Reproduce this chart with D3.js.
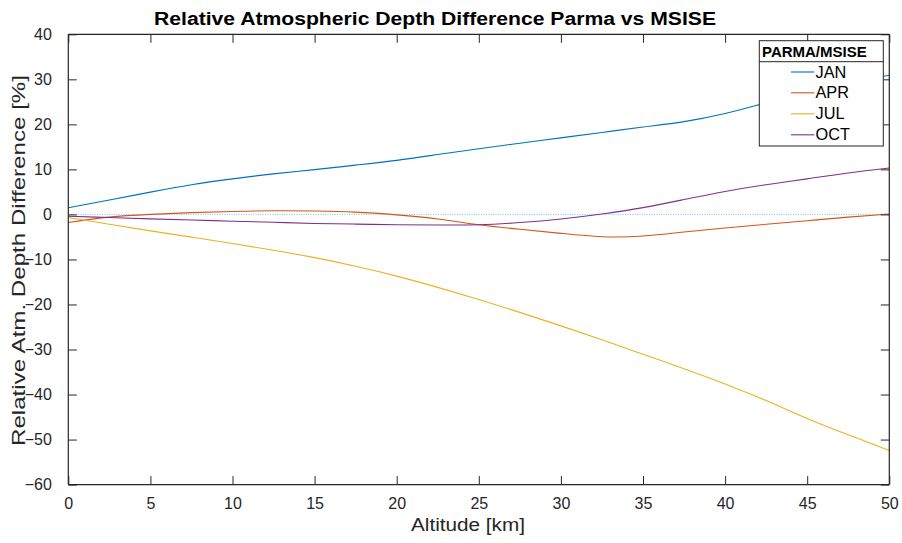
<!DOCTYPE html>
<html>
<head>
<meta charset="utf-8">
<script src="https://cdn.jsdelivr.net/npm/d3@7"></script>
<style>
  html, body { margin: 0; padding: 0; background: #fff; }
  svg { display: block; font-family: "Liberation Sans", Arial, Helvetica, sans-serif; }
</style>
</head>
<body>
<svg id="chart" width="902" height="543"></svg>
<script>
// ---- data ----
const altitude = [0, 2.5, 5, 7.5, 10, 12.5, 15, 17.5, 20, 22.5, 25, 27.5, 30, 32.5, 35, 37.5, 40, 42.5, 45, 47.5, 50];
const janValues = [1.5, 3.2, 4.95, 6.6, 7.9, 9.0, 9.95, 10.95, 12.0, 13.3, 14.6, 15.8, 17.0, 18.2, 19.4, 20.6, 22.4, 24.8, 27.2, 29.2, 30.9];
const aprValues = [-1.8, -0.6, 0.0, 0.4, 0.65, 0.8, 0.75, 0.5, -0.1, -1.0, -2.3, -3.3, -4.2, -4.95, -4.8, -3.9, -3.0, -2.2, -1.4, -0.6, 0.1];
const julValues = [-0.7, -2.2, -3.65, -5.05, -6.45, -7.95, -9.6, -11.5, -13.7, -16.2, -18.9, -21.75, -24.75, -27.85, -31.05, -34.25, -37.65, -41.35, -45.3, -48.95, -52.45];
const octValues = [-0.4, -0.7, -1.0, -1.25, -1.5, -1.75, -2.0, -2.15, -2.3, -2.35, -2.3, -1.8, -1.0, 0.1, 1.5, 3.3, 5.1, 6.6, 7.9, 9.2, 10.3];
const seriesNames = ["JAN", "APR", "JUL", "OCT"];
const seriesColors = ["#0072BD", "#D95319", "#EDB120", "#7E2F8E"];
const xTicks = [0, 5, 10, 15, 20, 25, 30, 35, 40, 45, 50];
const yTicks = [-60, -50, -40, -30, -20, -10, 0, 10, 20, 30, 40];
const titleText = "Relative Atmospheric Depth Difference Parma vs MSISE";
const xLabelText = "Altitude [km]";
const yLabelText = "Relative Atm. Depth Difference [%]";
const legendTitle = "PARMA/MSISE";

const allSeries = [janValues, aprValues, julValues, octValues];

// ---- layout ----
const svg = d3.select("#chart");
const L = 68.3, R = 889.3, T = 34.3, B = 484.6;
const x = d3.scaleLinear().domain([0, 50]).range([L, R]);
const y = d3.scaleLinear().domain([-60, 40]).range([B, T]);
const axisColor = "#262626";

// zero reference line (dotted)
svg.append("line")
  .attr("x1", x(0)).attr("x2", x(50)).attr("y1", y(0)).attr("y2", y(0))
  .attr("stroke", "#4DBEEE").attr("stroke-width", 1)
  .attr("stroke-dasharray", "1,1.4").attr("opacity", 0.8);

// series lines
const line = d3.line().x((d, i) => x(altitude[i])).y(d => y(d)).curve(d3.curveNatural);
allSeries.forEach((vals, k) => {
  svg.append("path").datum(vals)
    .attr("d", line)
    .attr("fill", "none")
    .attr("stroke", seriesColors[k])
    .attr("stroke-width", 1.1);
});

// axes (MATLAB box style, ticks inside)
const tickLen = 8.5;
const gB = svg.append("g").attr("transform", `translate(0,${B})`)
  .call(d3.axisBottom(x).tickValues(xTicks).tickSize(-tickLen).tickPadding(tickLen + 5));
const gT = svg.append("g").attr("transform", `translate(0,${T})`)
  .call(d3.axisTop(x).tickValues(xTicks).tickSize(-tickLen).tickFormat(""));
const gL = svg.append("g").attr("transform", `translate(${L},0)`)
  .call(d3.axisLeft(y).tickValues(yTicks).tickSize(-tickLen).tickPadding(tickLen + 8));
const gR = svg.append("g").attr("transform", `translate(${R},0)`)
  .call(d3.axisRight(y).tickValues(yTicks).tickSize(-tickLen).tickFormat(""));
[gB, gT, gL, gR].forEach(g => {
  g.select(".domain").attr("stroke", axisColor).attr("stroke-width", 1.2);
  g.selectAll(".tick line").attr("stroke", axisColor).attr("stroke-width", 1);
  g.selectAll("text").attr("fill", "#262626").attr("font-size", 16)
    .attr("font-family", "Liberation Sans, Arial, sans-serif");
});
gB.selectAll(".domain").attr("d", `M${L},0H${R}`);
gT.selectAll(".domain").attr("d", `M${L},0H${R}`);
gL.selectAll(".domain").attr("d", `M0,${B}V${T}`);
gR.selectAll(".domain").attr("d", `M0,${B}V${T}`);

// title
svg.append("text")
  .attr("x", 154).attr("y", 24.5)
  .attr("font-size", 18).attr("font-weight", "bold").attr("fill", "#000")
  .attr("textLength", 562).attr("lengthAdjust", "spacingAndGlyphs")
  .text(titleText);

// axis labels
svg.append("text")
  .attr("x", 411).attr("y", 531)
  .attr("font-size", 18).attr("fill", "#262626")
  .attr("textLength", 114).attr("lengthAdjust", "spacingAndGlyphs")
  .text(xLabelText);
svg.append("text")
  .attr("transform", "translate(25,446) rotate(-90)")
  .attr("font-size", 17.5).attr("fill", "#262626")
  .attr("textLength", 371).attr("lengthAdjust", "spacingAndGlyphs")
  .text(yLabelText);

// legend
const lg = svg.append("g");
const lgL = 759.3, lgT = 40.7, lgR = 883.3, lgB = 146;
lg.append("rect").attr("x", lgL).attr("y", lgT).attr("width", lgR - lgL).attr("height", lgB - lgT)
  .attr("fill", "#fff").attr("stroke", "#262626").attr("stroke-width", 1);
lg.append("line").attr("x1", lgL).attr("x2", lgR).attr("y1", 61.7).attr("y2", 61.7)
  .attr("stroke", "#262626").attr("stroke-width", 1);
lg.append("text").attr("x", 762).attr("y", 56.7)
  .attr("font-size", 14.5).attr("font-weight", "bold").attr("fill", "#000")
  .attr("textLength", 104.7).attr("lengthAdjust", "spacingAndGlyphs")
  .text(legendTitle);
const entryY = [72, 92.8, 113.8, 134.8];
seriesNames.forEach((name, k) => {
  lg.append("line").attr("x1", 791).attr("x2", 814.3)
    .attr("y1", entryY[k]).attr("y2", entryY[k])
    .attr("stroke", seriesColors[k]).attr("stroke-width", 1.1);
  lg.append("text").attr("x", 815.5).attr("y", entryY[k] + 5.6)
    .attr("font-size", 16.3).attr("fill", "#000")
    .text(name);
});
</script>
</body>
</html>
